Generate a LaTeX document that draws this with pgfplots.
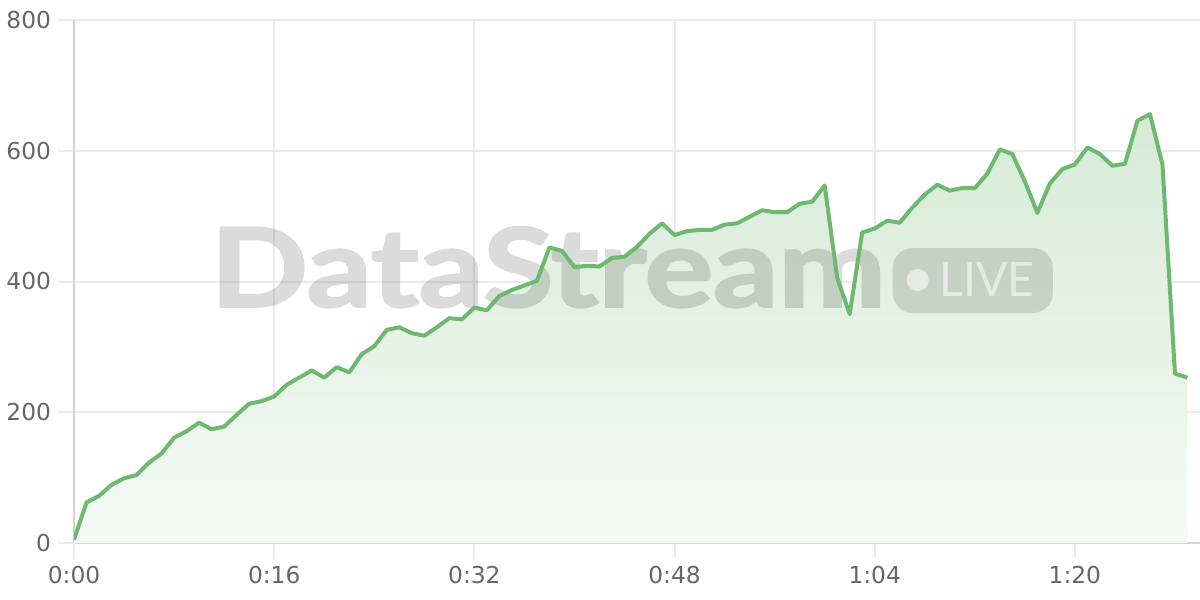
\documentclass[border=0pt]{standalone}
\usepackage{graphicx}
\usepackage{pgfplots}
\pgfplotsset{compat=1.18}
\usepackage{fontspec}
\setmainfont{DejaVu Sans}
\newfontfamily\wmfont{Lato}[BoldFeatures={FakeBold=2}]

\definecolor{linegreen}{RGB}{110,185,112}
\definecolor{filltop}{RGB}{214,234,214}
\definecolor{fillbot}{RGB}{246,250,246}
\definecolor{gridgray}{RGB}{235,235,235}
\definecolor{axisgray}{RGB}{210,210,210}
\definecolor{labelgray}{RGB}{102,102,102}

\pgfplotstableread{
t v
0 5
1 62
2 72
3 89
4 99
5 104
6 123
7 137
8 161
9 171
10 184
11 174
12 178
13 196
14 213
15 217
16 224
17 242
18 253
19 264
20 253
21 269
22 261
23 289
24 301
25 326
26 330
27 321
28 317
29 330
30 344
31 342
32 360
33 356
34 378
35 387
36 394
37 401
38 452
39 447
40 422
41 424
42 423
43 436
44 438
45 453
46 473
47 489
48 471
49 477
50 479
51 479
52 487
53 489
54 499
55 509
56 506
57 506
58 519
59 522
60 547
61 406
62 350
63 475
64 481
65 493
66 490
67 513
68 533
69 548
70 539
71 543
72 543
73 565
74 602
75 595
76 553
77 505
78 550
79 572
80 579
81 605
82 595
83 577
84 580
85 646
86 656
87 579
88 259
89 253
}\stream

\begin{document}
\begin{tikzpicture}
\begin{axis}[
  at={(0,0)}, anchor=south west, scale only axis,
  width=563bp, height=261.5bp,
  xmin=0, xmax=90, ymin=0, ymax=800,
  xtick={0,16,32,48,64,80},
  xticklabels={0:00,0:16,0:32,0:48,1:04,1:20},
  ytick={0,200,400,600,800},
  axis x line*=bottom, axis y line*=left,
  axis line style={axisgray, line width=1bp, -},
  grid=major, major grid style={gridgray, line width=1bp},
  tick align=outside, major tick length=8bp,
  tick style={gridgray, line width=1bp},
  ticklabel style={font=\fontsize{11.7}{14}\selectfont, text=labelgray},
  /pgf/number format/assume math mode=true,
  clip mode=individual,
]
  \addplot[draw=none, top color=filltop, bottom color=fillbot] table[x=t, y=v] {\stream} \closedcycle;
  % watermark, drawn as one transparent group
  \begin{scope}[transparency group, opacity=0.14]
    \node[anchor=south west, inner sep=0, text=black]
      at (axis cs:10.88,359.5) {\resizebox{337.5bp}{40bp}{\wmfont\bfseries DataStream}};
  \end{scope}
  \fill[black, opacity=0.12, rounded corners=10bp] (axis cs:65.44,351.8) rectangle (axis cs:78.24,451.2);
  \fill[white, opacity=0.55] (axis cs:67.44,402.3) circle[radius=5.5bp];
  \node[anchor=south west, inner sep=0, text=white, text opacity=0.55]
    at (axis cs:69.12,376.3) {\resizebox{47.5bp}{17bp}{\wmfont LIVE}};
  \addplot[linegreen, line width=2bp, line join=round, no marks] table[x=t, y=v] {\stream};
\end{axis}
\pgfresetboundingbox
\path (-37bp,-28.5bp) rectangle (563bp,271.5bp);
\end{tikzpicture}
\end{document}
